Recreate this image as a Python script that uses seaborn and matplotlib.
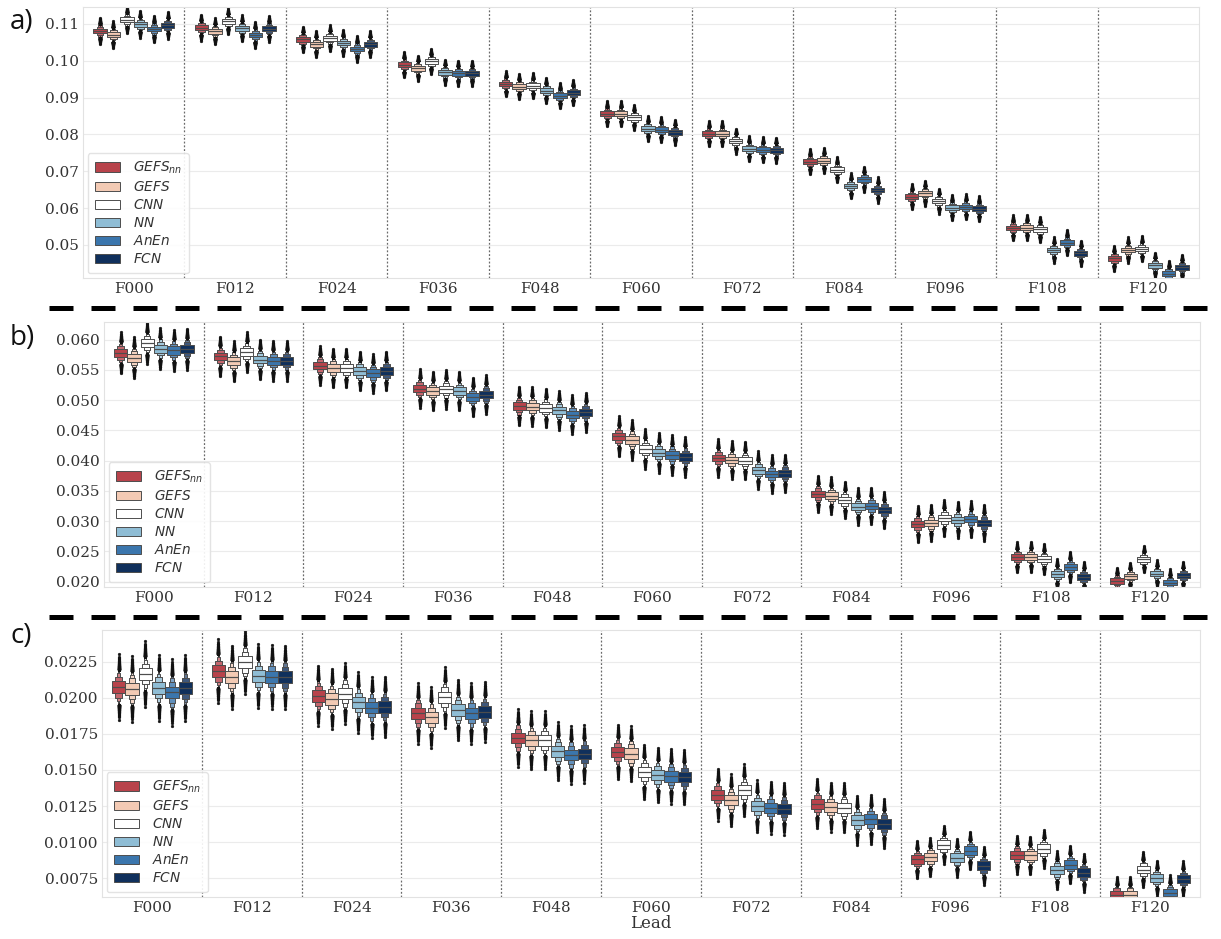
import numpy as np
import pandas as pd
import matplotlib
matplotlib.use("Agg")
import matplotlib.pyplot as plt
from matplotlib.lines import Line2D
import seaborn as sns
from statistics import NormalDist

# ---------------------------------------------------------------- data
leads = ["F000", "F012", "F024", "F036", "F048", "F060",
         "F072", "F084", "F096", "F108", "F120"]
models = [r"$GEFS_{nn}$", r"$GEFS$", r"$CNN$", r"$NN$", r"$AnEn$", r"$FCN$"]
colors = ["#b8434b", "#f3cab4", "#ffffff", "#8fbdd5", "#3b76ad", "#10305c"]

# a) medians per model across lead times
gefsnn_a = [0.1081, 0.1090, 0.1058, 0.0989, 0.0937, 0.0856, 0.0802, 0.0726, 0.0631, 0.0546, 0.0463]
gefs_a = [0.1071, 0.1080, 0.1045, 0.0980, 0.0930, 0.0856, 0.0802, 0.0729, 0.0640, 0.0547, 0.0486]
cnn_a = [0.1111, 0.1107, 0.1061, 0.0998, 0.0932, 0.0846, 0.0782, 0.0704, 0.0619, 0.0542, 0.0489]
nn_a = [0.1099, 0.1088, 0.1048, 0.0969, 0.0919, 0.0816, 0.0761, 0.0660, 0.0601, 0.0486, 0.0445]
anen_a = [0.1086, 0.1070, 0.1032, 0.0966, 0.0905, 0.0813, 0.0758, 0.0678, 0.0603, 0.0506, 0.0422]
fcn_a = [0.1096, 0.1087, 0.1045, 0.0966, 0.0913, 0.0806, 0.0757, 0.0649, 0.0598, 0.0477, 0.0439]
iqr_a = [0.0013, 0.0013, 0.0013, 0.0013, 0.0013, 0.0013, 0.0013, 0.0013, 0.0013, 0.0013, 0.0013]
tail_a = [0.0036, 0.0035, 0.0035, 0.0034, 0.0034, 0.0034, 0.0034, 0.0034, 0.0034, 0.0034, 0.0034]

# b)
gefsnn_b = [0.0578, 0.0572, 0.0557, 0.0519, 0.0490, 0.0440, 0.0404, 0.0345, 0.0295, 0.0240, 0.0201]
gefs_b = [0.0570, 0.0564, 0.0553, 0.0515, 0.0489, 0.0434, 0.0401, 0.0342, 0.0297, 0.0241, 0.0209]
cnn_b = [0.0594, 0.0579, 0.0553, 0.0518, 0.0487, 0.0419, 0.0400, 0.0335, 0.0305, 0.0237, 0.0237]
nn_b = [0.0585, 0.0567, 0.0548, 0.0515, 0.0483, 0.0413, 0.0384, 0.0324, 0.0302, 0.0212, 0.0213]
anen_b = [0.0582, 0.0565, 0.0544, 0.0505, 0.0476, 0.0409, 0.0378, 0.0325, 0.0303, 0.0224, 0.0198]
fcn_b = [0.0584, 0.0565, 0.0548, 0.0509, 0.0480, 0.0406, 0.0379, 0.0318, 0.0297, 0.0208, 0.0210]
iqr_b = [0.00135, 0.0013, 0.0013, 0.0012, 0.0012, 0.0012, 0.0011, 0.0011, 0.00105, 0.00095, 0.00085]
tail_b = [0.0034, 0.0033, 0.0032, 0.0032, 0.0032, 0.0033, 0.0031, 0.0030, 0.0030, 0.0025, 0.0022]

# c)
gefsnn_c = [0.02074, 0.02185, 0.02014, 0.01892, 0.01722, 0.01625, 0.01329, 0.01267, 0.00880, 0.00912, 0.00637]
gefs_c = [0.02063, 0.02142, 0.01993, 0.01864, 0.01706, 0.01614, 0.01290, 0.01243, 0.00896, 0.00908, 0.00637]
cnn_c = [0.02165, 0.02246, 0.02030, 0.02003, 0.01706, 0.01486, 0.01359, 0.01239, 0.00982, 0.00954, 0.00810]
nn_c = [0.02069, 0.02151, 0.01968, 0.01915, 0.01630, 0.01465, 0.01248, 0.01151, 0.00892, 0.00806, 0.00750]
anen_c = [0.02037, 0.02146, 0.01933, 0.01892, 0.01604, 0.01456, 0.01239, 0.01158, 0.00941, 0.00845, 0.00650]
fcn_c = [0.02067, 0.02142, 0.01937, 0.01903, 0.01611, 0.01451, 0.01232, 0.01128, 0.00836, 0.00788, 0.00746]
iqr_c = [0.0008, 0.00085, 0.0008, 0.0008, 0.00075, 0.00075, 0.0007, 0.00068, 0.0006, 0.0006, 0.00053]
tail_c = [0.0023, 0.0022, 0.0021, 0.0021, 0.0020, 0.0019, 0.0018, 0.0017, 0.0013, 0.0013, 0.0012]

panels = [
    ("a)", [gefsnn_a, gefs_a, cnn_a, nn_a, anen_a, fcn_a], iqr_a, tail_a,
     (0.041, 0.1146), [0.05, 0.06, 0.07, 0.08, 0.09, 0.10, 0.11], "{:.2f}"),
    ("b)", [gefsnn_b, gefs_b, cnn_b, nn_b, anen_b, fcn_b], iqr_b, tail_b,
     (0.0191, 0.0629), [0.020, 0.025, 0.030, 0.035, 0.040, 0.045, 0.050, 0.055, 0.060], "{:.3f}"),
    ("c)", [gefsnn_c, gefs_c, cnn_c, nn_c, anen_c, fcn_c], iqr_c, tail_c,
     (0.0062, 0.0247), [0.0075, 0.0100, 0.0125, 0.0150, 0.0175, 0.0200, 0.0225], "{:.4f}"),
]

# quantile grid used to expand (median, IQR, extreme) into a sample
N_SAMPLES = 2000
_nd = NormalDist()
z_grid = np.array([_nd.inv_cdf((i + 0.5) / N_SAMPLES) for i in range(N_SAMPLES)])
z_q = _nd.inv_cdf(0.75)
z_top = z_grid[-1]


def expand(median, iqr, half_span):
    q = iqr / 2.0
    az = np.abs(z_grid)
    inner = z_grid / z_q * q
    outer = np.sign(z_grid) * (q + (az - z_q) / (z_top - z_q) * (half_span - q))
    return median + np.where(az <= z_q, inner, outer)


def build_frame(med_lists, iqr, tail):
    frames = []
    for m, meds in zip(models, med_lists):
        for j, lead in enumerate(leads):
            vals = expand(meds[j], iqr[j], tail[j])
            frames.append(pd.DataFrame({"Lead": lead, "Model": m, "value": vals}))
    return pd.concat(frames, ignore_index=True)


# ---------------------------------------------------------------- style
sns.set_style("whitegrid", {"grid.color": "#ebebeb", "axes.edgecolor": "#e2e2e2"})
plt.rcParams["font.family"] = ["DejaVu Serif"]
plt.rcParams["mathtext.fontset"] = "dejavusans"

W, H = 1221, 939
fig = plt.figure(figsize=(W / 100, H / 100), dpi=100)

# axes boxes in pixels: left, top, right, bottom
boxes = [(83, 7, 1199, 278), (104, 322, 1200, 587), (102, 630, 1200, 897)]
label_y = [22, 338, 636]

for (tag, med_lists, iqr, tail, ylim, yticks, fmt), (l, t, r, b), ly in zip(panels, boxes, label_y):
    ax = fig.add_axes([l / W, 1 - b / H, (r - l) / W, (b - t) / H])
    df = build_frame(med_lists, iqr, tail)
    sns.boxenplot(
        data=df, x="Lead", y="value", hue="Model",
        order=leads, hue_order=models, palette=colors, saturation=1,
        width=0.8, linewidth=0.7, linecolor="#4d4d4d",
        k_depth=4, width_method="exponential",
        flier_kws={"s": 4, "marker": "o", "facecolor": "#111111",
                   "edgecolor": "#111111", "linewidth": 0.3},
        ax=ax,
    )
    for i in range(len(leads) - 1):
        ax.axvline(i + 0.5, color="#6a6a6a", ls=(0, (1.5, 1.5)), lw=0.9, zorder=0)
    ax.set_xlim(-0.5, len(leads) - 0.5)
    ax.set_ylim(*ylim)
    ax.set_yticks(yticks)
    ax.set_yticklabels([fmt.format(v) for v in yticks])
    ax.xaxis.grid(False)
    ax.tick_params(axis="both", labelsize=11, colors="#333333", pad=3, length=0)
    ax.set_ylabel("")
    ax.set_xlabel("Lead" if tag == "c)" else "", fontsize=12, labelpad=0, color="#333333")
    handles, labels = ax.get_legend_handles_labels()
    ax.legend(handles, labels, loc="lower left", fontsize=9.8, frameon=True,
              borderaxespad=0.35, handlelength=1.9, handleheight=0.7,
              labelspacing=0.3, handletextpad=0.9, framealpha=0.9,
              edgecolor="#e0e0e0", borderpad=0.5)
    for txt in ax.get_legend().get_texts():
        txt.set_color("#333333")
    fig.text(10 / W, 1 - ly / H, tag, ha="left", va="center",
             family=["Open Sans", "DejaVu Sans"], fontsize=20, color="#111111")

# thick dashed separators between the panels
for yy in (308, 617):
    fig.add_artist(Line2D([49 / W, 1.0], [1 - yy / H] * 2, transform=fig.transFigure,
                          color="black", lw=3.6, linestyle=(0, (4.8, 3.6)),
                          solid_capstyle="butt", dash_capstyle="butt"))

fig.savefig("out.png", dpi=100)
